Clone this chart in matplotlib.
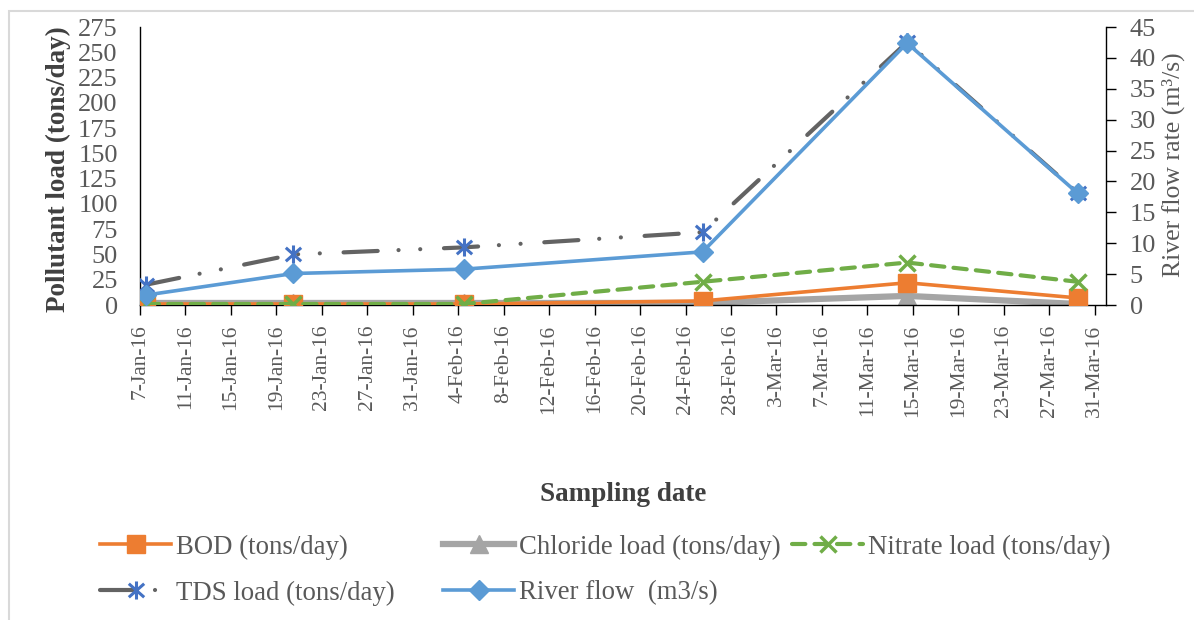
import numpy as np
import pandas as pd
import matplotlib
matplotlib.use("Agg")
import matplotlib.pyplot as plt
import matplotlib.transforms as mtransforms
from matplotlib.legend_handler import HandlerTuple
from matplotlib.path import Path
from matplotlib.patches import Rectangle

# sampling dates and loads
dates = ["2016-01-07", "2016-01-20", "2016-02-04", "2016-02-25", "2016-03-14", "2016-03-29"]
bod = [1, 1, 1, 4, 22, 7]
chloride = [2, 2, 2, 2, 9, 1]
nitrate = [1, 1, 1, 23, 42, 23]
tds = [20, 50, 57, 72, 260, 111]
river_flow = [1.6, 5.1, 5.8, 8.6, 42.4, 18.1]

series_names = ["BOD (tons/day)", "Chloride load (tons/day)", "Nitrate load (tons/day)",
                "TDS load (tons/day)", "River flow  (m3/s)"]

plt.rcParams["font.family"] = ["Liberation Serif", "DejaVu Serif"]
txt = "#595959"

# Excel puts each day's point in the middle of its day slot
x = pd.to_datetime(dates) + pd.Timedelta(hours=12)

# asterisk marker used by excel for the TDS series
star = Path([(0, -1), (0, 1), (-0.85, -0.75), (0.85, 0.75), (-0.85, 0.75), (0.85, -0.75)],
            [Path.MOVETO, Path.LINETO] * 3)

fig = plt.figure(figsize=(11.94, 6.2), dpi=100)
ax = fig.add_axes([140 / 1194, 1 - 305 / 620, 966 / 1194, 278 / 620])
ax2 = ax.twinx()

l_bod, = ax.plot(x, bod, color="#ED7D31", lw=2.6, marker="s", ms=13, zorder=3)
l_chl, = ax.plot(x, chloride, color="#A5A5A5", lw=4.5, marker="^", ms=13, zorder=2)
l_nit, = ax.plot(x, nitrate, color="#70AD47", lw=3.0, dashes=(3.2, 2.2), dash_capstyle="round",
                 marker="x", ms=11, mew=2.5, zorder=4)
l_tds, = ax.plot(x, tds, color="#636363", lw=3.0, dashes=(8.2, 5.0, 0.01, 5.2, 0.01, 5.7),
                 dash_capstyle="round", zorder=5)
l_tds_m, = ax.plot(x, tds, ls="none", marker=star, ms=13, mew=2.2, mec="#4472C4", mfc="none", zorder=6)
l_flow, = ax2.plot(x, river_flow, color="#5B9BD5", lw=2.6, marker="D", ms=10, zorder=3)

ax.set_xlim(pd.Timestamp("2016-01-07"), pd.Timestamp("2016-04-01"))
ticks = pd.date_range("2016-01-07", "2016-03-31", freq="4D")
ax.set_xticks(ticks)
ax.set_xticklabels([f"{d.day}-{d.strftime('%b')}-16" for d in ticks], rotation=90,
                   fontsize=15.5, color=txt, va="top", ha="center")
offset = mtransforms.ScaledTranslation(5 / 100, 0, fig.dpi_scale_trans)
for lab in ax.get_xticklabels():
    lab.set_transform(lab.get_transform() + offset)

ax.set_ylim(0, 275)
ax.set_yticks(np.arange(0, 276, 25))
ax2.set_ylim(0, 45)
ax2.set_yticks(np.arange(0, 46, 5))

ax.tick_params(axis="x", direction="out", length=7, width=1, color="black", pad=7)
ax.tick_params(axis="y", length=0, labelsize=19, labelcolor=txt, pad=16)
ax2.tick_params(axis="y", direction="out", length=7, width=1, color="black",
                labelsize=19, labelcolor=txt, pad=10)

for a in (ax, ax2):
    a.spines["top"].set_visible(False)
    for s in ("left", "right", "bottom"):
        a.spines[s].set_color("black")
        a.spines[s].set_linewidth(1)
ax.spines["right"].set_visible(False)
ax2.spines["left"].set_visible(False)
ax2.spines["bottom"].set_visible(False)
ax.patch.set_visible(False)

ax.set_ylabel("Pollutant load (tons/day)", fontsize=19.5, fontweight="bold", color="#404040")
ax.yaxis.set_label_coords(-0.071, 0.49)
ax2.set_ylabel("River flow rate (m³/s)", fontsize=18.5, color=txt)
ax2.yaxis.set_label_coords(1.058, 0.505)
ax.set_xlabel("Sampling date", fontsize=19.5, fontweight="bold", color="#404040")
ax.xaxis.set_label_coords(0.5, -0.635)

# legend entries placed like the excel legend
entries = [((l_bod,), series_names[0], 100, 547),
           ((l_chl,), series_names[1], 443, 547),
           ((l_nit,), series_names[2], 792, 547),
           ((l_tds, l_tds_m), series_names[3], 100, 593),
           ((l_flow,), series_names[4], 443, 593)]
for handles, name, px, py in entries:
    fig.legend([handles], [name], loc="center left", bbox_to_anchor=(px / 1194, 1 - py / 620),
               frameon=False, fontsize=19.3, labelcolor=txt, handlelength=2.65,
               handletextpad=0.2, borderpad=0, borderaxespad=0,
               handler_map={tuple: HandlerTuple(ndivide=1)})

# light chart border
fig.patches.append(Rectangle((9 / 1194, -0.1), 1.1, 1 - 11 / 620 + 0.1, transform=fig.transFigure,
                             fill=False, edgecolor="#D9D9D9", lw=1.5))

fig.savefig("out.png", dpi=100)
